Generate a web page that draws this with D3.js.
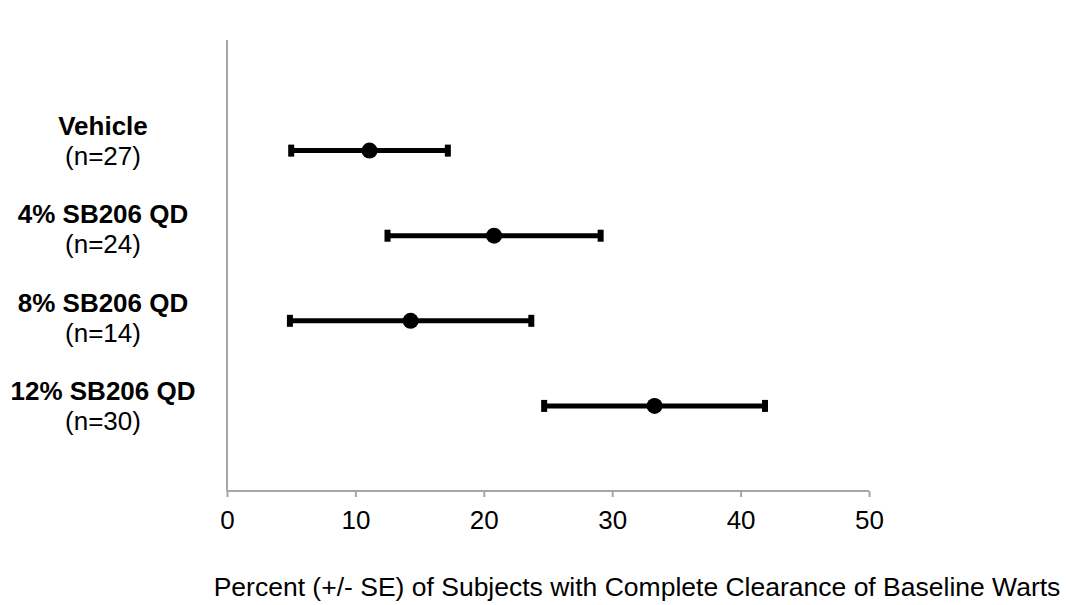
<!DOCTYPE html>
<html>
<head>
<meta charset="utf-8">
<script src="https://cdn.jsdelivr.net/npm/d3@7"></script>
<style>
	body { margin: 0; background: #fff; }
	text { font-family: "Liberation Sans", Arial, sans-serif; fill: #000; }
</style>
</head>
<body>
<svg id="chart" width="1069" height="605"></svg>
<script>
// groups, top to bottom
var groups = ["Vehicle", "4% SB206 QD", "8% SB206 QD", "12% SB206 QD"];
var counts = ["(n=27)", "(n=24)", "(n=14)", "(n=30)"];
// percent of subjects with complete clearance, and its standard error
var means = [11.1, 20.8, 14.3, 33.3];
var errors = [6.1, 8.3, 9.4, 8.6];
var xTicks = [0, 10, 20, 30, 40, 50];

var svg = d3.select("#chart");

var x = d3.scaleLinear()
		.domain([0, 50])
		.range([227, 869]);
// rows sit at 4..1 on a 0..5.3 scale, like the original scatter
var y = d3.scaleLinear()
		.domain([0, 5.3])
		.range([491, 40]);
// label text boxes were placed a bit apart from the markers
var labelY = d3.scaleLinear()
		.domain([0, groups.length - 1])
		.range([135, 400]);

var axisColor = "#a6a6a6";

// y axis line
svg.append("line")
	.attr("x1", x(0)).attr("x2", x(0))
	.attr("y1", y(5.3)).attr("y2", y(0))
	.attr("stroke", axisColor)
	.attr("stroke-width", 2);

// x axis
var xAxis = svg.append("g")
	.attr("transform", "translate(0," + y(0) + ")")
	.call(d3.axisBottom(x).tickValues(xTicks).tickSize(6).tickPadding(14));
xAxis.select(".domain")
	.attr("stroke", axisColor)
	.attr("stroke-width", 2)
	.attr("d", "M" + x(0) + ",0H" + x(50));
xAxis.selectAll(".tick line")
	.attr("stroke", axisColor)
	.attr("stroke-width", 2);
xAxis.selectAll(".tick text")
	.style("font-size", "26px")
	.style("font-family", "'Liberation Sans', Arial, sans-serif")
	.attr("fill", "#000");

// axis title
svg.append("text")
	.attr("x", 637)
	.attr("y", 596)
	.style("text-anchor", "middle")
	.style("font-size", "26.5px")
	.text("Percent (+/- SE) of Subjects with Complete Clearance of Baseline Warts");

// category labels
var labels = svg.selectAll(".label")
	.data(groups)
	.enter().append("g")
	.attr("class", "label");
labels.append("text")
	.attr("x", 103)
	.attr("y", function(d, i) { return labelY(i); })
	.style("text-anchor", "middle")
	.style("font-size", "26px")
	.style("font-weight", "bold")
	.text(function(d) { return d; });
labels.append("text")
	.attr("x", 103)
	.attr("y", function(d, i) { return labelY(i) + 30; })
	.style("text-anchor", "middle")
	.style("font-size", "26px")
	.text(function(d, i) { return counts[i]; });

// error bars with dots
var rows = svg.selectAll(".row")
	.data(means)
	.enter().append("g")
	.attr("class", "row")
	.attr("transform", function(d, i) { return "translate(0," + y(groups.length - i) + ")"; });

rows.append("line")
	.attr("x1", function(d, i) { return x(d - errors[i]); })
	.attr("x2", function(d, i) { return x(d + errors[i]); })
	.attr("stroke", "#000")
	.attr("stroke-width", 5);
// caps
rows.append("rect")
	.attr("x", function(d, i) { return x(d - errors[i]) - 3; })
	.attr("y", -6)
	.attr("width", 6)
	.attr("height", 12);
rows.append("rect")
	.attr("x", function(d, i) { return x(d + errors[i]) - 3; })
	.attr("y", -6)
	.attr("width", 6)
	.attr("height", 12);
rows.append("circle")
	.attr("cx", function(d) { return x(d); })
	.attr("r", 8)
	.attr("fill", "#000");
</script>
</body>
</html>
